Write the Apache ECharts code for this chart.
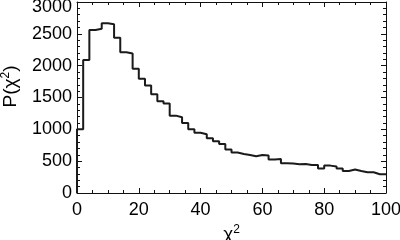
<!DOCTYPE html>
<html>
<head>
<meta charset="utf-8">
<script src="https://cdn.jsdelivr.net/npm/echarts@6/dist/echarts.min.js"></script>
<style>html,body{margin:0;padding:0;background:#fff;}#c{width:400px;height:240px;}</style>
</head>
<body>
<div id="c"></div>
<script>
// Histogram of chi^2, bins of width 2 from 0 to 100
var binWidth = 2;
var counts = [
  1000, 2090, 2560, 2580, 2665, 2650, 2440, 2210, 2190, 1950,
  1795, 1690, 1550, 1440, 1405, 1215, 1190, 1100, 1000, 945,
  922, 860, 813, 768, 683, 635, 614, 598, 577, 598,
  588, 527, 535, 467, 462, 451, 456, 440, 441, 383,
  430, 415, 383, 346, 368, 346, 325, 325, 294, 294
];
var xTicks = [0, 20, 40, 60, 80, 100];
var yTicks = [0, 500, 1000, 1500, 2000, 2500, 3000];

var pts = [[0, 0]];
for (var i = 0; i < counts.length; i++) pts.push([i * binWidth, counts[i]]);
pts.push([counts.length * binWidth, counts[counts.length - 1]]);

var font = 'Liberation Sans, Arial, Helvetica, sans-serif';
var ink = '#111';
var yMax = yTicks[yTicks.length - 1];
var chart = echarts.init(document.getElementById('c'), null, {renderer: 'canvas'});
var plain = function (v) { return String(v); };
var yFmt = function (v) { return v === yMax ? '{t|' + v + '}' : String(v); };
var richSup = {s: {fontSize: 12, verticalAlign: 'top', padding: [0, 0, 9, 0], fontFamily: font, color: '#000'}};
function axis(o) {
  var base = {
    type: 'value',
    axisLine: {show: true, onZero: false, lineStyle: {color: ink, width: 1}},
    axisTick: {show: true, inside: true, length: 5, lineStyle: {color: ink}},
    minorTick: {show: true, splitNumber: 4, length: 3, lineStyle: {color: ink}},
    splitLine: {show: false},
    axisLabel: {show: false}
  };
  return Object.assign(base, o);
}
chart.setOption({
  animation: false,
  grid: {left: 77, right: 14, top: 2, bottom: 47, containLabel: false, outerBoundsMode: 'none'},
  xAxis: [
    axis({min: xTicks[0], max: xTicks[xTicks.length - 1], interval: 20, position: 'bottom',
      name: 'χ{s|2}', nameLocation: 'middle', nameGap: 26,
      nameTextStyle: {color: '#000', fontSize: 19, fontFamily: font, rich: richSup},
      axisLabel: {show: true, color: '#000', fontSize: 18, fontFamily: font, margin: 8, formatter: plain}}),
    axis({min: xTicks[0], max: xTicks[xTicks.length - 1], interval: 20, position: 'top'})
  ],
  yAxis: [
    axis({min: yTicks[0], max: yMax, interval: 500, position: 'left',
      minorTick: {show: true, splitNumber: 5, length: 3, lineStyle: {color: ink}},
      name: 'P(χ{s|2})', nameLocation: 'middle', nameRotate: 90, nameGap: 56,
      nameTextStyle: {color: '#000', fontSize: 19, fontFamily: font, padding: [0, 0, 0, 22], rich: richSup},
      axisLabel: {show: true, color: '#000', fontSize: 18, fontFamily: font, margin: 5, formatter: yFmt,
        rich: {t: {fontSize: 18, fontFamily: font, color: '#000', padding: [11, 0, 0, 0]}}}}),
    axis({min: yTicks[0], max: yMax, interval: 500, position: 'right',
      minorTick: {show: true, splitNumber: 5, length: 3, lineStyle: {color: ink}}})
  ],
  series: [{
    type: 'line', step: 'end', data: pts, xAxisIndex: 0, yAxisIndex: 0,
    symbol: 'none', lineStyle: {color: '#1a1a1a', width: 2}
  }]
});
</script>
</body>
</html>
